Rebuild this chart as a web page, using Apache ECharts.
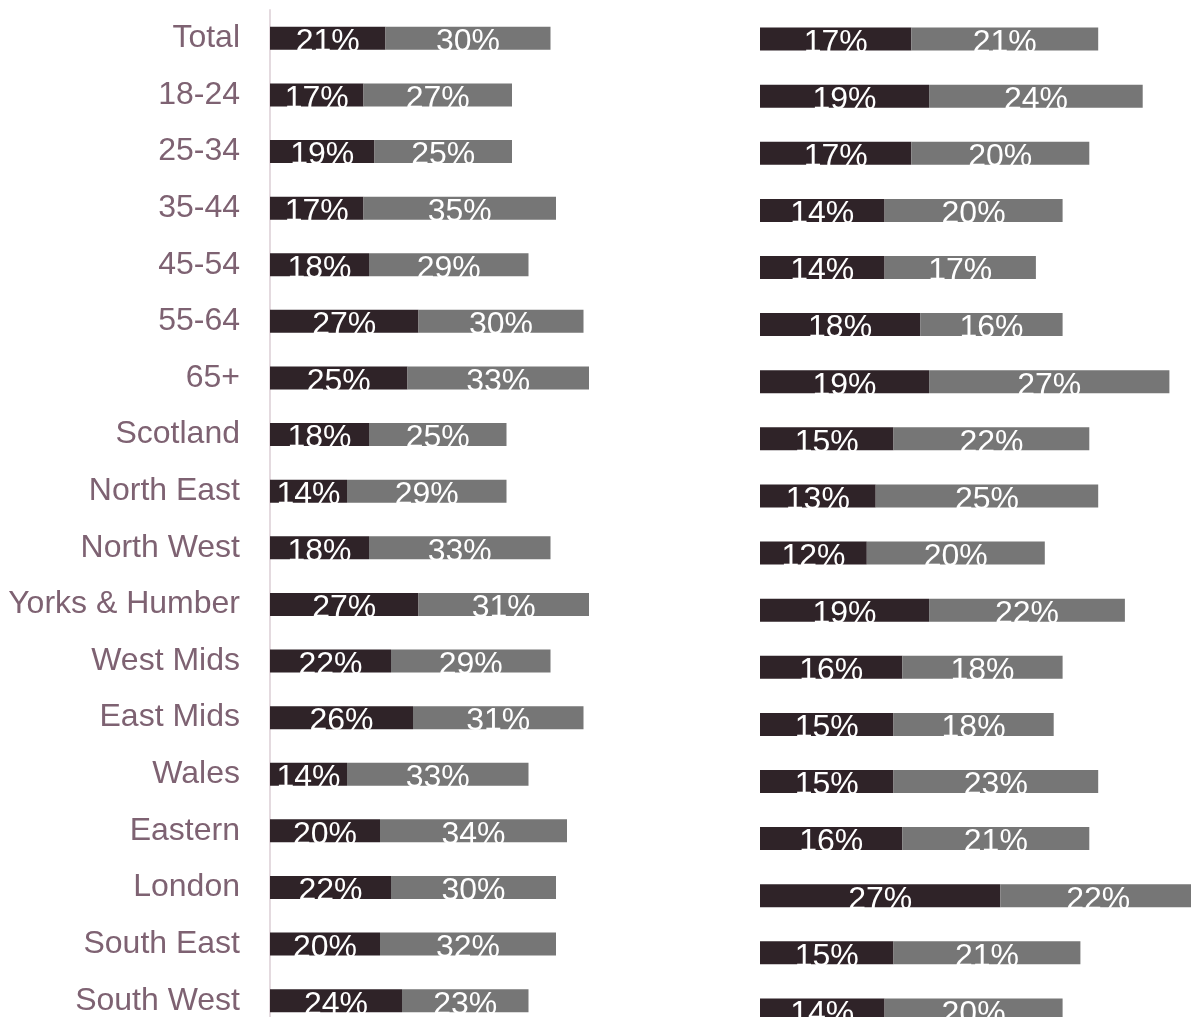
<!DOCTYPE html>
<html>
<head>
<meta charset="utf-8">
<script src="https://cdn.jsdelivr.net/npm/echarts@6/dist/echarts.min.js"></script>
<style>
html,body{margin:0;padding:0;background:#fff;overflow:hidden;width:1191px;height:1017px;}
#chart{width:1230px;height:1060px;}
</style>
</head>
<body>
<div id="chart"></div>
<script>
const categories = ['Total','18-24','25-34','35-44','45-54','55-64','65+','Scotland','North East','North West','Yorks & Humber','West Mids','East Mids','Wales','Eastern','London','South East','South West'];
const leftDark  = [21,17,19,17,18,27,25,18,14,18,27,22,26,14,20,22,20,24];
const leftGray  = [30,27,25,35,29,30,33,25,29,33,31,29,31,33,34,30,32,23];
const rightDark = [17,19,17,14,14,18,19,15,13,12,19,16,15,15,16,27,15,14];
const rightGray = [21,24,20,20,17,16,27,22,25,20,22,18,18,23,21,22,21,20];

const DARK = '#2f2328';
const GRAY = '#767676';
const FONT = '"Liberation Sans", Arial, sans-serif';

function barLabel() {
  return {
    show: true,
    position: 'inside',
    formatter: '{c}%',
    color: '#ffffff',
    fontSize: 32,
    fontFamily: FONT,
    offset: [0, 4]
  };
}

const chart = echarts.init(document.getElementById('chart'), null, {renderer: 'canvas'});
chart.setOption({
  animation: false,
  backgroundColor: '#ffffff',
  grid: [
    {left: 270, width: 330, top: 10, height: 1019},
    {left: 760, width: 445, top: 10.5, height: 1028}
  ],
  xAxis: [
    {gridIndex: 0, type: 'value', min: 0, max: 60, show: false},
    {gridIndex: 1, type: 'value', min: 0, max: 50, show: false}
  ],
  yAxis: [
    {
      gridIndex: 0, type: 'category', data: categories, inverse: true,
      axisLine: {show: true, lineStyle: {color: '#e4dadf', width: 2}},
      axisTick: {show: false},
      axisLabel: {fontSize: 32, color: '#7e6272', fontFamily: FONT, margin: 30}
    },
    {
      gridIndex: 1, type: 'category', data: categories, inverse: true,
      axisLine: {show: false}, axisTick: {show: false}, axisLabel: {show: false}
    }
  ],
  series: [
    {type: 'bar', name: 'L1', xAxisIndex: 0, yAxisIndex: 0, stack: 'left', data: leftDark, barWidth: 23, itemStyle: {color: DARK}, label: barLabel()},
    {type: 'bar', name: 'L2', xAxisIndex: 0, yAxisIndex: 0, stack: 'left', data: leftGray, barWidth: 23, itemStyle: {color: GRAY}, label: barLabel()},
    {type: 'bar', name: 'R1', xAxisIndex: 1, yAxisIndex: 1, stack: 'right', data: rightDark, barWidth: 23, itemStyle: {color: DARK}, label: barLabel()},
    {type: 'bar', name: 'R2', xAxisIndex: 1, yAxisIndex: 1, stack: 'right', data: rightGray, barWidth: 23, itemStyle: {color: GRAY}, label: barLabel()}
  ]
});
</script>
</body>
</html>
